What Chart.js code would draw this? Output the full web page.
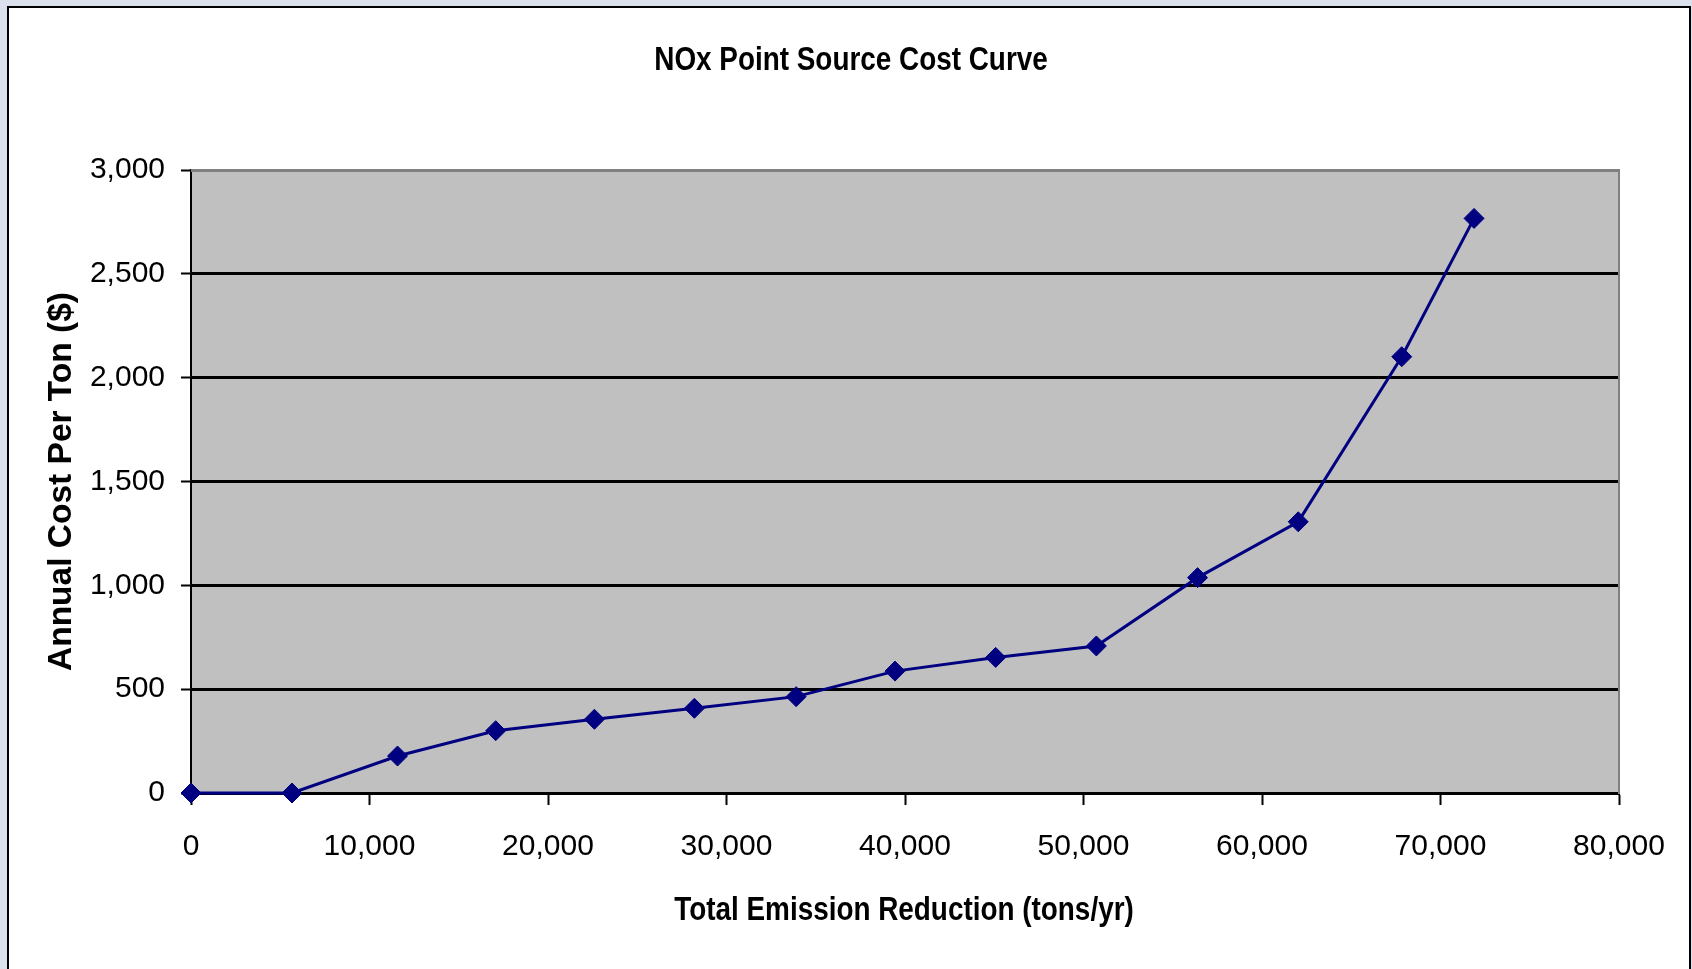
<!DOCTYPE html>
<html>
<head>
<meta charset="utf-8">
<script src="https://cdn.jsdelivr.net/npm/chart.js@4"></script>
<style>
  html, body { margin: 0; padding: 0; width: 1692px; height: 969px; overflow: hidden; background: #dbe1ec; }
  #frame { position: absolute; left: 7px; top: 6px; width: 1680px; height: 1000px; background: #ffffff; border: 2.5px solid #000; }
  #c { position: absolute; left: 0; top: 0; }
</style>
</head>
<body>
<div id="frame"></div>
<canvas id="c" width="1692" height="969"></canvas>
<script>
// ---- data ----
const chartTitle = 'NOx Point Source Cost Curve';
const xTitle = 'Total Emission Reduction (tons/yr)';
const yTitle = 'Annual Cost Per Ton ($)';
const emissionReduction = [0, 5660, 11570, 17070, 22600, 28200, 33900, 39440, 45080, 50720, 56390, 62030, 67830, 71880];
const costPerTon        = [0, 0, 178, 300, 355, 408, 464, 587, 653, 708, 1037, 1306, 2101, 2767];
const xTicks = [0, 10000, 20000, 30000, 40000, 50000, 60000, 70000, 80000];
const yTicks = [0, 500, 1000, 1500, 2000, 2500, 3000];

const points = emissionReduction.map((x, i) => ({ x: x, y: costPerTon[i] }));
const fmt = v => Number(v).toLocaleString('en-US');
const regular = "'Liberation Sans', Arial, sans-serif";

// Arial-Narrow-like text: Liberation Sans Bold compressed horizontally
function narrowText(ctx, text, cx, baseline, size) {
  ctx.save();
  ctx.font = 'bold ' + size + "px 'Liberation Sans', Arial, sans-serif";
  ctx.fillStyle = '#000';
  ctx.textAlign = 'center';
  ctx.textBaseline = 'alphabetic';
  ctx.translate(cx, baseline);
  ctx.scale(0.82, 1);
  ctx.fillText(text, 0, 0);
  ctx.restore();
}

const plotBg = {
  id: 'plotBg',
  beforeDraw(chart) {
    const { ctx, chartArea: a } = chart;
    ctx.save();
    ctx.fillStyle = '#c0c0c0';
    ctx.fillRect(a.left, a.top, a.right - a.left, a.bottom - a.top);
    ctx.restore();
  },
  beforeDatasetsDraw(chart) {
    const { ctx, chartArea: a } = chart;
    ctx.save();
    ctx.strokeStyle = '#808080';
    ctx.lineWidth = 3;
    ctx.beginPath();
    ctx.moveTo(a.left, a.top + 0.5);
    ctx.lineTo(a.right + 1, a.top + 0.5);
    ctx.stroke();
    ctx.restore();
  },
  afterDraw(chart) {
    const { ctx, chartArea: a } = chart;
    narrowText(ctx, chartTitle, 851, 70, 34);
    narrowText(ctx, xTitle, (a.left + a.right) / 2 - 1, 920, 34);
  }
};

new Chart(document.getElementById('c'), {
  type: 'line',
  data: {
    datasets: [{
      data: points,
      borderColor: '#000080',
      backgroundColor: '#000080',
      borderWidth: 3,
      tension: 0,
      pointStyle: 'rectRot',
      pointRadius: 10,
      pointBorderWidth: 1,
      pointBackgroundColor: '#000080',
      pointBorderColor: '#000080',
      clip: false,
      yAxisID: 'y'
    }]
  },
  options: {
    responsive: false,
    animation: false,
    devicePixelRatio: 1,
    layout: { padding: { left: 10, right: 0, top: 170, bottom: 0 } },
    plugins: {
      legend: { display: false },
      tooltip: { enabled: false },
      title: { display: false }
    },
    scales: {
      x: {
        type: 'linear',
        position: 'bottom',
        min: 0, max: 80000,
        afterBuildTicks: s => { s.ticks = xTicks.map(v => ({ value: v })); },
        afterFit: s => { s.height = 176; },
        grid: { drawOnChartArea: false, drawTicks: true, tickLength: 12, tickColor: '#000', tickWidth: 2 },
        border: { display: true, color: '#000', width: 3 },
        ticks: { color: '#000', font: { family: regular, size: 30 }, padding: 24, maxRotation: 0, autoSkip: false, callback: v => fmt(v) },
        title: { display: false }
      },
      y: {
        type: 'linear',
        position: 'left',
        min: 0, max: 3000,
        afterBuildTicks: s => { s.ticks = yTicks.map(v => ({ value: v })); },
        afterFit: s => { s.width = 181; },
        grid: {
          drawOnChartArea: true, drawTicks: true, tickLength: 10, tickColor: '#000', tickWidth: 2,
          color: c => (c.tick && c.tick.value === 3000) ? 'rgba(0,0,0,0)' : '#000',
          lineWidth: 3
        },
        border: { display: true, color: '#000', width: 2 },
        ticks: { color: '#000', font: { family: regular, size: 30 }, padding: 16, autoSkip: false, callback: v => fmt(v) },
        title: { display: true, text: yTitle, color: '#000', font: { family: regular, size: 33.5, weight: 'bold', lineHeight: 1.2 }, padding: { top: 31.4, bottom: 0 } }
      },
      y2: {
        type: 'linear',
        position: 'right',
        display: true,
        afterFit: s => { s.width = 73; },
        grid: { display: false, drawTicks: false },
        ticks: { display: false },
        border: { display: true, color: '#808080', width: 2 }
      }
    }
  },
  plugins: [plotBg]
});
</script>
</body>
</html>
